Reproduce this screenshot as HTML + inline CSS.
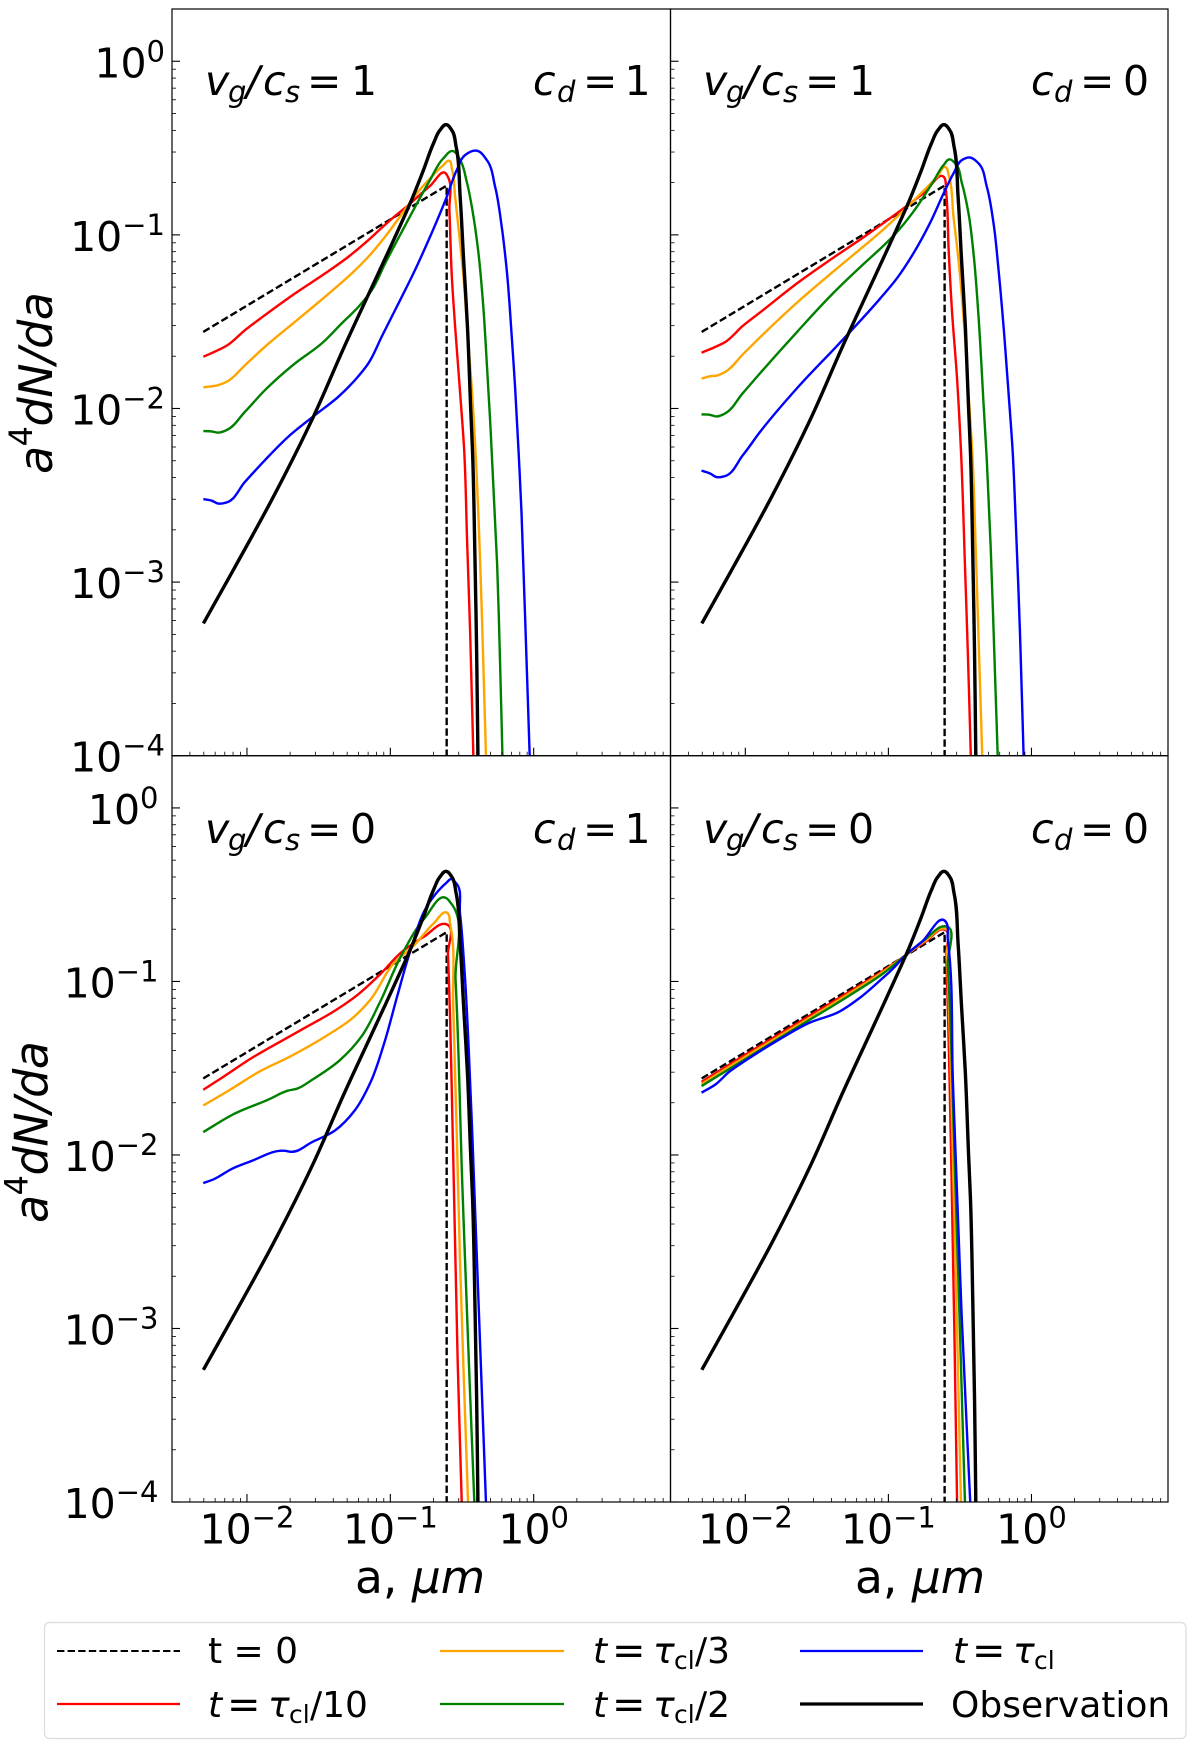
<!DOCTYPE html>
<html lang="en">
<head>
<meta charset="utf-8">
<title>Grain size distribution panels</title>
<style>
html,body{margin:0;padding:0;background:#fff;width:1200px;height:1757px;overflow:hidden}
svg{display:block}
text{font-family:"DejaVu Sans","Liberation Sans",sans-serif;fill:#000}
.i{font-style:italic}
</style>
</head>
<body>
<svg id="fig" xmlns="http://www.w3.org/2000/svg" width="1200" height="1757" viewBox="0 0 1200 1757">
<rect x="0" y="0" width="1200" height="1757" fill="#fff"/>
<g id="plots"></g>

<g font-size="41">
<text y="95"><tspan class="i" x="205">v</tspan><tspan class="i" x="228" dy="7" font-size="29">g</tspan><tspan class="i" x="246" dy="-7">/</tspan><tspan class="i" x="263">c</tspan><tspan class="i" x="285" dy="7" font-size="29">s</tspan><tspan x="307" dy="-7">=</tspan><tspan x="351">1</tspan></text>
<text y="95"><tspan class="i" x="533">c</tspan><tspan class="i" x="557" dy="7" font-size="29">d</tspan><tspan x="583" dy="-7">=</tspan><tspan x="624.5">1</tspan></text>
</g>
<g font-size="41">
<text y="95"><tspan class="i" x="703">v</tspan><tspan class="i" x="726" dy="7" font-size="29">g</tspan><tspan class="i" x="744" dy="-7">/</tspan><tspan class="i" x="761">c</tspan><tspan class="i" x="783" dy="7" font-size="29">s</tspan><tspan x="805" dy="-7">=</tspan><tspan x="849">1</tspan></text>
<text y="95"><tspan class="i" x="1031">c</tspan><tspan class="i" x="1054" dy="7" font-size="29">d</tspan><tspan x="1080" dy="-7">=</tspan><tspan x="1123">0</tspan></text>
</g>
<g font-size="41">
<text y="843"><tspan class="i" x="205">v</tspan><tspan class="i" x="228" dy="7" font-size="29">g</tspan><tspan class="i" x="246" dy="-7">/</tspan><tspan class="i" x="263">c</tspan><tspan class="i" x="285" dy="7" font-size="29">s</tspan><tspan x="307" dy="-7">=</tspan><tspan x="350">0</tspan></text>
<text y="843"><tspan class="i" x="533">c</tspan><tspan class="i" x="557" dy="7" font-size="29">d</tspan><tspan x="583" dy="-7">=</tspan><tspan x="624.5">1</tspan></text>
</g>
<g font-size="41">
<text y="843"><tspan class="i" x="703">v</tspan><tspan class="i" x="726" dy="7" font-size="29">g</tspan><tspan class="i" x="744" dy="-7">/</tspan><tspan class="i" x="761">c</tspan><tspan class="i" x="783" dy="7" font-size="29">s</tspan><tspan x="805" dy="-7">=</tspan><tspan x="848">0</tspan></text>
<text y="843"><tspan class="i" x="1031">c</tspan><tspan class="i" x="1054" dy="7" font-size="29">d</tspan><tspan x="1080" dy="-7">=</tspan><tspan x="1123">0</tspan></text>
</g>

<text font-size="46" transform="translate(52 474) rotate(-90)" textLength="182" lengthAdjust="spacing"><tspan class="i">a</tspan><tspan font-size="32" dy="-20">4</tspan><tspan class="i" dy="20">dN/da</tspan></text>
<text font-size="46" transform="translate(47.5 1223) rotate(-90)" textLength="182" lengthAdjust="spacing"><tspan class="i">a</tspan><tspan font-size="32" dy="-20">4</tspan><tspan class="i" dy="20">dN/da</tspan></text>
<text font-size="45.5" x="355" y="1593" xml:space="preserve">a, <tspan class="i">μm</tspan></text>
<text font-size="45.5" x="855" y="1593" xml:space="preserve">a, <tspan class="i">μm</tspan></text>

<g font-size="36">
<rect x="44.5" y="1622.5" width="1141.5" height="116" rx="5" ry="5" fill="#fff" stroke="#dcdcdc" stroke-width="1.2"/>
<g>
<line x1="57" y1="1651" x2="180" y2="1651" stroke="#000" stroke-width="2" stroke-dasharray="7.4 3.2"/>
<text x="208" y="1663" xml:space="preserve">t = 0</text>
</g>
<g>
<line x1="57" y1="1704" x2="180" y2="1704" stroke="#ff0000" stroke-width="2.2"/>
<text y="1717"><tspan class="i" x="208">t</tspan><tspan x="227" dy="1" font-size="40">=</tspan><tspan class="i" x="268" dy="-1">τ</tspan><tspan x="289" dy="6" font-size="25">cl</tspan><tspan x="310" dy="-6">/10</tspan></text>
</g>
<g>
<line x1="440" y1="1651" x2="564" y2="1651" stroke="#ffa500" stroke-width="2.2"/>
<text y="1663"><tspan class="i" x="593">t</tspan><tspan x="612" dy="1" font-size="40">=</tspan><tspan class="i" x="653" dy="-1">τ</tspan><tspan x="674" dy="6" font-size="25">cl</tspan><tspan x="695" dy="-6">/3</tspan></text>
</g>
<g>
<line x1="440" y1="1704" x2="564" y2="1704" stroke="#008000" stroke-width="2.2"/>
<text y="1717"><tspan class="i" x="593">t</tspan><tspan x="612" dy="1" font-size="40">=</tspan><tspan class="i" x="653" dy="-1">τ</tspan><tspan x="674" dy="6" font-size="25">cl</tspan><tspan x="695" dy="-6">/2</tspan></text>
</g>
<g>
<line x1="800" y1="1651" x2="923" y2="1651" stroke="#0000ff" stroke-width="2.2"/>
<text y="1663"><tspan class="i" x="953">t</tspan><tspan x="972" dy="1" font-size="40">=</tspan><tspan class="i" x="1013" dy="-1">τ</tspan><tspan x="1034" dy="6" font-size="25">cl</tspan></text>
</g>
<g>
<line x1="800" y1="1704" x2="923" y2="1704" stroke="#000" stroke-width="3.2"/>
<text x="951" y="1717">Observation</text>
</g>
</g>
</svg>

<script>
// ---- Axis ticks (log10 of the value at each decade) ----
const xTickExponents = [-2, -1, 0];
const yTickExponents = [0, -1, -2, -3, -4];
const xMinorDecades = [-3, -2, -1, 0];
const yMinorDecades = [0, -1, -2, -3, -4];
const minorMultipliers = [2, 3, 4, 5, 6, 7, 8, 9];
const xLimits = [0.003, 9];
const yLimits = [1e-4, 2];

// ---- Series values: log10(a) and log10(a^4 dN/da) ----
const initialLogA = [-2.305, -0.607, -0.607];
const initialLogY = [-1.559, -0.716, -4];

const observationLogA = [-2.304,-2.083,-1.816,-1.537,-1.316,-1.095,-0.955,-0.855,-0.769,-0.699,-0.653,-0.611,-0.572,-0.541,-0.513,-0.490,-0.462,-0.439,-0.427,-0.410,-0.398,-0.389];
const observationLogY = [-3.238,-2.912,-2.509,-2.048,-1.635,-1.241,-0.990,-0.805,-0.627,-0.473,-0.396,-0.365,-0.396,-0.492,-0.780,-1.126,-1.529,-2.009,-2.239,-2.850,-3.400,-4];

// Panel A: vg/cs = 1, cd = 1
const panelARedLogA = [-2.304,-2.199,-2.141,-2.013,-1.874,-1.664,-1.455,-1.292,-1.153,-1.013,-0.874,-0.723,-0.613,-0.599,-0.588,-0.571,-0.548,-0.513,-0.485,-0.465,-0.443,-0.421];
const panelARedLogY = [-1.702,-1.663,-1.638,-1.548,-1.462,-1.337,-1.222,-1.126,-1.030,-0.924,-0.828,-0.718,-0.646,-0.665,-0.857,-1.241,-1.529,-1.913,-2.239,-2.750,-3.300,-4];
const panelAOrangeLogA = [-2.304,-2.199,-2.141,-2.013,-1.874,-1.664,-1.455,-1.269,-1.153,-1.036,-0.908,-0.839,-0.723,-0.630,-0.590,-0.571,-0.548,-0.513,-0.490,-0.462,-0.432,-0.404,-0.375,-0.352,-0.333];
const panelAOrangeLogY = [-1.878,-1.865,-1.846,-1.750,-1.644,-1.500,-1.356,-1.222,-1.126,-1.010,-0.866,-0.785,-0.675,-0.598,-0.573,-0.617,-0.780,-1.049,-1.241,-1.560,-1.880,-2.280,-2.850,-3.450,-4];
const panelAGreenLogA = [-2.304,-2.246,-2.199,-2.141,-2.013,-1.874,-1.664,-1.478,-1.339,-1.222,-1.129,-1.036,-0.920,-0.839,-0.723,-0.630,-0.564,-0.513,-0.467,-0.420,-0.386,-0.351,-0.327,-0.304,-0.290,-0.255,-0.235,-0.218];
const panelAGreenLogY = [-2.130,-2.132,-2.139,-2.124,-2.018,-1.894,-1.740,-1.625,-1.510,-1.414,-1.318,-1.164,-0.982,-0.857,-0.684,-0.559,-0.517,-0.569,-0.694,-0.895,-1.100,-1.420,-1.740,-2.067,-2.300,-2.900,-3.450,-4];
const panelABlueLogA = [-2.304,-2.246,-2.199,-2.141,-2.013,-1.874,-1.711,-1.525,-1.362,-1.246,-1.153,-1.060,-0.955,-0.839,-0.723,-0.606,-0.537,-0.478,-0.397,-0.327,-0.269,-0.223,-0.188,-0.153,-0.130,-0.106,-0.085,-0.060,-0.028];
const panelABlueLogY = [-2.522,-2.531,-2.548,-2.541,-2.422,-2.297,-2.162,-2.038,-1.932,-1.836,-1.740,-1.586,-1.414,-1.222,-1.011,-0.780,-0.627,-0.540,-0.515,-0.569,-0.723,-0.953,-1.203,-1.587,-1.875,-2.239,-2.600,-3.200,-4];

// Panel B: vg/cs = 1, cd = 0
const panelBRedLogA = [-2.306,-2.209,-2.144,-2.017,-1.897,-1.632,-1.391,-1.150,-1.057,-0.894,-0.754,-0.610,-0.598,-0.579,-0.556,-0.521,-0.493,-0.465,-0.445,-0.424];
const panelBRedLogY = [-1.679,-1.645,-1.619,-1.524,-1.447,-1.275,-1.135,-1.000,-0.945,-0.847,-0.760,-0.669,-0.742,-1.087,-1.433,-1.817,-2.239,-2.900,-3.400,-4];
const panelBOrangeLogA = [-2.306,-2.245,-2.202,-2.144,-2.017,-1.897,-1.632,-1.391,-1.150,-1.057,-0.894,-0.754,-0.661,-0.598,-0.579,-0.545,-0.510,-0.475,-0.440,-0.412,-0.390,-0.365,-0.344];
const panelBOrangeLogY = [-1.828,-1.814,-1.811,-1.791,-1.688,-1.590,-1.385,-1.215,-1.050,-0.985,-0.860,-0.745,-0.668,-0.611,-0.655,-0.895,-1.145,-1.471,-1.913,-2.280,-2.800,-3.450,-4];
const panelBGreenLogA = [-2.306,-2.245,-2.202,-2.149,-2.017,-1.897,-1.632,-1.391,-1.150,-1.057,-0.964,-0.824,-0.684,-0.614,-0.572,-0.533,-0.486,-0.440,-0.405,-0.370,-0.335,-0.312,-0.285,-0.260,-0.236];
const panelBGreenLogY = [-2.034,-2.037,-2.046,-2.032,-1.911,-1.797,-1.553,-1.340,-1.150,-1.080,-1.005,-0.865,-0.690,-0.598,-0.565,-0.588,-0.703,-0.876,-1.107,-1.471,-1.971,-2.300,-2.800,-3.400,-4];
const panelBBlueLogA = [-2.306,-2.245,-2.202,-2.144,-2.017,-1.897,-1.632,-1.343,-1.057,-0.941,-0.824,-0.708,-0.614,-0.545,-0.486,-0.433,-0.370,-0.312,-0.265,-0.230,-0.195,-0.160,-0.132,-0.110,-0.080,-0.055];
const panelBBlueLogY = [-2.358,-2.375,-2.395,-2.390,-2.269,-2.135,-1.877,-1.625,-1.366,-1.251,-1.105,-0.930,-0.761,-0.646,-0.569,-0.554,-0.588,-0.723,-0.934,-1.203,-1.529,-1.913,-2.239,-2.650,-3.300,-4];

// Panel C: vg/cs = 0, cd = 1
const panelCRedLogA = [-2.305,-2.165,-1.978,-1.729,-1.604,-1.386,-1.231,-1.075,-0.919,-0.763,-0.607,-0.598,-0.561,-0.530,-0.502];
const panelCRedLogY = [-1.624,-1.550,-1.447,-1.329,-1.271,-1.168,-1.079,-0.962,-0.829,-0.741,-0.671,-0.844,-2.021,-3.197,-4];
const panelCOrangeLogA = [-2.305,-2.118,-1.916,-1.698,-1.449,-1.262,-1.137,-0.981,-0.826,-0.701,-0.601,-0.583,-0.561,-0.514,-0.458];
const panelCOrangeLogY = [-1.715,-1.624,-1.521,-1.432,-1.315,-1.210,-1.103,-0.900,-0.785,-0.668,-0.606,-0.668,-1.138,-2.609,-4];
const panelCGreenLogA = [-2.305,-2.087,-1.854,-1.713,-1.651,-1.542,-1.355,-1.199,-1.075,-0.919,-0.763,-0.607,-0.576,-0.545,-0.498,-0.452,-0.414];
const panelCGreenLogY = [-1.868,-1.762,-1.682,-1.629,-1.618,-1.565,-1.456,-1.315,-1.124,-0.844,-0.638,-0.521,-0.550,-0.991,-2.168,-3.197,-4];
const panelCBlueLogA = [-2.305,-2.227,-2.103,-1.978,-1.735,-1.692,-1.542,-1.386,-1.246,-1.137,-1.044,-0.950,-0.857,-0.732,-0.607,-0.576,-0.545,-0.514,-0.483,-0.436,-0.389,-0.333];
const panelCBlueLogY = [-2.162,-2.138,-2.079,-2.038,-1.976,-1.982,-1.924,-1.859,-1.741,-1.579,-1.359,-1.079,-0.815,-0.550,-0.430,-0.410,-0.430,-0.609,-0.932,-1.726,-2.756,-4];

// Panel D: vg/cs = 0, cd = 0
const panelDRedLogA = [-2.306,-1.993,-1.632,-1.271,-1.030,-0.886,-0.741,-0.604,-0.597,-0.561,-0.520];
const panelDRedLogY = [-1.579,-1.418,-1.238,-1.058,-0.934,-0.853,-0.771,-0.703,-0.844,-2.021,-4];
const panelDOrangeLogA = [-2.306,-1.993,-1.632,-1.271,-1.030,-0.886,-0.741,-0.602,-0.592,-0.549,-0.493];
const panelDOrangeLogY = [-1.591,-1.430,-1.250,-1.068,-0.940,-0.853,-0.765,-0.697,-0.844,-2.021,-4];
const panelDGreenLogA = [-2.306,-1.993,-1.632,-1.271,-1.030,-0.886,-0.741,-0.602,-0.585,-0.537,-0.465];
const panelDGreenLogY = [-1.603,-1.444,-1.262,-1.080,-0.950,-0.853,-0.756,-0.682,-0.903,-2.021,-4];
const panelDBlueLogA = [-2.306,-2.209,-2.113,-1.993,-1.752,-1.560,-1.343,-1.199,-1.054,-0.958,-0.886,-0.765,-0.602,-0.585,-0.549,-0.489,-0.428];
const panelDBlueLogY = [-1.641,-1.594,-1.521,-1.453,-1.329,-1.241,-1.174,-1.094,-0.991,-0.918,-0.853,-0.771,-0.653,-0.756,-1.579,-2.903,-4];

const seriesColors = ['#ff0000', '#ffa500', '#008000', '#0000ff'];
const seriesNames = ['t-tenth', 't-third', 't-half', 't-full'];

const panels = [
  {id:'a', left:172, right:670.5, top:9, bottom:755.7, showX:false, showY:true, yLabelRight:165,
   curves:[[panelARedLogA,panelARedLogY],[panelAOrangeLogA,panelAOrangeLogY],[panelAGreenLogA,panelAGreenLogY],[panelABlueLogA,panelABlueLogY]]},
  {id:'b', left:670.5, right:1168, top:9, bottom:755.7, showX:false, showY:false, yLabelRight:0,
   curves:[[panelBRedLogA,panelBRedLogY],[panelBOrangeLogA,panelBOrangeLogY],[panelBGreenLogA,panelBGreenLogY],[panelBBlueLogA,panelBBlueLogY]]},
  {id:'c', left:172, right:670.5, top:755.7, bottom:1502, showX:true, showY:true, yLabelRight:158.5,
   curves:[[panelCRedLogA,panelCRedLogY],[panelCOrangeLogA,panelCOrangeLogY],[panelCGreenLogA,panelCGreenLogY],[panelCBlueLogA,panelCBlueLogY]]},
  {id:'d', left:670.5, right:1168, top:755.7, bottom:1502, showX:true, showY:false, yLabelRight:0,
   curves:[[panelDRedLogA,panelDRedLogY],[panelDOrangeLogA,panelDOrangeLogY],[panelDGreenLogA,panelDGreenLogY],[panelDBlueLogA,panelDBlueLogY]]}
];

const NS = 'http://www.w3.org/2000/svg';
const plots = document.getElementById('plots');

function xAxis(p, logA) {
  const lo = Math.log10(xLimits[0]), hi = Math.log10(xLimits[1]);
  return p.left + (logA - lo) / (hi - lo) * (p.right - p.left);
}
function yAxis(p, logY) {
  const lo = Math.log10(yLimits[0]), hi = Math.log10(yLimits[1]);
  return p.bottom - (logY - lo) / (hi - lo) * (p.bottom - p.top);
}
function curvePath(p, logA, logY) {
  const pts = logA.map((v, i) => [xAxis(p, v), yAxis(p, logY[i])]);
  let d = 'M' + pts[0][0].toFixed(2) + ' ' + pts[0][1].toFixed(2);
  const seg = i => {
    const dx = pts[i + 1][0] - pts[i][0], dy = pts[i + 1][1] - pts[i][1];
    const l = Math.hypot(dx, dy) || 1;
    return {u: [dx / l, dy / l], l: l};
  };
  const tan = i => {
    if (i === 0) return seg(0).u;
    if (i === pts.length - 1) return seg(i - 1).u;
    const a = seg(i - 1), b = seg(i);
    const tx = (a.u[0] * b.l + b.u[0] * a.l) / (a.l + b.l);
    const ty = (a.u[1] * b.l + b.u[1] * a.l) / (a.l + b.l);
    const n = Math.hypot(tx, ty) || 1;
    return [tx / n, ty / n];
  };
  for (let i = 0; i < pts.length - 1; i++) {
    const s = seg(i).l / 3;
    const t0 = tan(i), t1 = tan(i + 1);
    d += 'C' + (pts[i][0] + t0[0] * s).toFixed(2) + ' ' + (pts[i][1] + t0[1] * s).toFixed(2) + ' ' +
         (pts[i + 1][0] - t1[0] * s).toFixed(2) + ' ' + (pts[i + 1][1] - t1[1] * s).toFixed(2) + ' ' +
         pts[i + 1][0].toFixed(2) + ' ' + pts[i + 1][1].toFixed(2);
  }
  return d;
}
function straightPath(p, logA, logY) {
  return logA.map((v, i) => (i ? 'L' : 'M') + xAxis(p, v).toFixed(2) + ' ' + yAxis(p, logY[i]).toFixed(2)).join('');
}
function tickLine(parent, x1, y1, x2, y2, w) {
  const l = document.createElementNS(NS, 'line');
  
  
  l.setAttribute('x1', x1);
  l.setAttribute('y1', y1);
  l.setAttribute('x2', x2);
  l.setAttribute('y2', y2);
  l.setAttribute('stroke', '#000');
  l.setAttribute('stroke-width', w);
  parent.appendChild(l);
}
function powerLabel(parent, exponent, x, y, anchor, name) {
  const t = document.createElementNS(NS, 'text');
  
  
  t.setAttribute('x', x);
  t.setAttribute('y', y);
  t.setAttribute('text-anchor', anchor);
  t.setAttribute('font-size', '41');
  t.appendChild(document.createTextNode('10'));
  const s = document.createElementNS(NS, 'tspan');
  s.setAttribute('font-size', '29');
  s.setAttribute('dy', '-16');
  s.textContent = String(exponent).replace('-', '\u2212');
  t.appendChild(s);
  parent.appendChild(t);
}

panels.forEach(p => {
  const g = document.createElementNS(NS, 'g');
  
  
  plots.appendChild(g);

  const clip = document.createElementNS(NS, 'clipPath');
  clip.setAttribute('id', 'clip-' + p.id);
  const cr = document.createElementNS(NS, 'rect');
  cr.setAttribute('x', p.left);
  cr.setAttribute('y', p.top);
  cr.setAttribute('width', p.right - p.left);
  cr.setAttribute('height', p.bottom - p.top);
  clip.appendChild(cr);
  g.appendChild(clip);

  const lines = document.createElementNS(NS, 'g');
  
  
  lines.setAttribute('clip-path', 'url(#clip-' + p.id + ')');
  lines.setAttribute('fill', 'none');
  g.appendChild(lines);

  const dashed = document.createElementNS(NS, 'path');
  
  
  dashed.setAttribute('d', straightPath(p, initialLogA, initialLogY));
  dashed.setAttribute('stroke', '#000');
  dashed.setAttribute('stroke-width', '2.4');
  dashed.setAttribute('stroke-dasharray', '7.4 3.2');
  lines.appendChild(dashed);

  p.curves.forEach((c, i) => {
    const path = document.createElementNS(NS, 'path');
    
    
    path.setAttribute('d', curvePath(p, c[0], c[1]));
    path.setAttribute('stroke', seriesColors[i]);
    path.setAttribute('stroke-width', '2.4');
    path.setAttribute('stroke-linejoin', 'round');
    lines.appendChild(path);
  });

  const obs = document.createElementNS(NS, 'path');
  
  
  obs.setAttribute('d', curvePath(p, observationLogA, observationLogY));
  obs.setAttribute('stroke', '#000');
  obs.setAttribute('stroke-width', '3.4');
  obs.setAttribute('stroke-linejoin', 'round');
  lines.appendChild(obs);

  xTickExponents.forEach(e => {
    const x = xAxis(p, e);
    tickLine(g, x, p.bottom, x, p.bottom - 8, 1.1);
    if (p.showX) powerLabel(g, e, x, 1543.5, 'middle', 'x-tick-label');
  });
  xMinorDecades.forEach(d => {
    minorMultipliers.forEach(m => {
      const lx = d + Math.log10(m);
      if (lx >= Math.log10(xLimits[0]) && lx <= Math.log10(xLimits[1])) {
        const x = xAxis(p, lx);
        tickLine(g, x, p.bottom, x, p.bottom - 4, 0.8);
      }
    });
  });
  yTickExponents.forEach(e => {
    const y = yAxis(p, e);
    tickLine(g, p.left, y, p.left + 8, y, 1.1);
    if (p.showY) powerLabel(g, e, p.yLabelRight, y + 16, 'end', 'y-tick-label');
  });
  yMinorDecades.forEach(d => {
    minorMultipliers.forEach(m => {
      const ly = d + Math.log10(m);
      if (ly >= Math.log10(yLimits[0]) && ly <= Math.log10(yLimits[1])) {
        const y = yAxis(p, ly);
        tickLine(g, p.left, y, p.left + 4, y, 0.8);
      }
    });
  });

  const frame = document.createElementNS(NS, 'rect');
  
  
  frame.setAttribute('x', p.left);
  frame.setAttribute('y', p.top);
  frame.setAttribute('width', p.right - p.left);
  frame.setAttribute('height', p.bottom - p.top);
  frame.setAttribute('fill', 'none');
  frame.setAttribute('stroke', '#000');
  frame.setAttribute('stroke-width', '1.2');
  g.appendChild(frame);
});
</script>
</body>
</html>
